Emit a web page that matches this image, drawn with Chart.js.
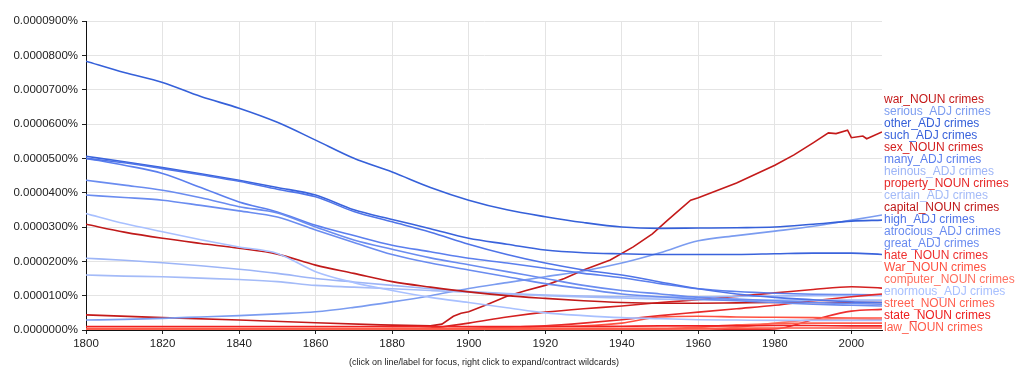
<!DOCTYPE html>
<html>
<head>
<meta charset="utf-8">
<script src="https://cdn.jsdelivr.net/npm/chart.js@4.4.1/dist/chart.umd.min.js"></script>
<style>
html,body{margin:0;padding:0;background:#fff;}
#wrap{width:1024px;height:382px;position:relative;}
</style>
</head>
<body>
<div id="wrap"><canvas id="c" width="1024" height="382"></canvas></div>
<script>
// values in units of 0.00001 %
const years = [1800,1810,1820,1830,1840,1850,1860,1870,1880,1890,1900,1910,1920,1930,1940,1950,1960,1970,1980,1990,2000,2008];
const xTickYears = [1800,1820,1840,1860,1880,1900,1920,1940,1960,1980,2000];
const yTickValues = [0,1,2,3,4,5,6,7,8,9];

const warYears  = [1800,1820,1840,1860,1877,1890,1893,1896,1898,1900,1905,1910,1915,1920,1925,1930,1937,1943,1948,1952,1958,1960,1970,1980,1985,1990,1994,1996,1999,2000,2003,2004,2008];
const warNoun   = [0.44,0.36,0.29,0.21,0.15,0.12,0.17,0.40,0.49,0.53,0.75,0.98,1.15,1.30,1.50,1.75,2.04,2.42,2.80,3.20,3.78,3.85,4.28,4.80,5.10,5.45,5.74,5.72,5.82,5.60,5.65,5.57,5.77];

const seriousAdj  = [0.29,0.31,0.34,0.38,0.42,0.47,0.53,0.66,0.82,1.00,1.21,1.38,1.55,1.72,1.95,2.25,2.60,2.75,2.88,3.02,3.20,3.35];
const otherAdj    = [7.83,7.50,7.21,6.80,6.46,6.05,5.53,5.00,4.60,4.15,3.78,3.50,3.30,3.13,3.00,2.96,2.97,2.98,3.00,3.08,3.17,3.20];
const suchAdj     = [5.06,4.90,4.73,4.55,4.36,4.15,3.93,3.50,3.22,2.95,2.67,2.50,2.33,2.25,2.22,2.20,2.20,2.20,2.22,2.24,2.24,2.20];
const sexNoun     = [0.02,0.02,0.02,0.02,0.02,0.02,0.03,0.03,0.04,0.06,0.20,0.38,0.52,0.62,0.70,0.80,0.88,0.98,1.08,1.18,1.26,1.22];
const manyAdj     = [5.00,4.80,4.56,4.15,3.73,3.44,3.05,2.75,2.47,2.28,2.09,1.95,1.80,1.65,1.52,1.35,1.20,1.12,1.07,1.04,1.03,1.02];
const heinousAdj  = [2.09,2.03,1.96,1.87,1.77,1.65,1.50,1.40,1.30,1.20,1.12,1.06,1.02,0.99,0.97,0.96,0.97,0.98,0.99,1.00,1.00,1.00];
const propertyNoun= [0.01,0.01,0.01,0.01,0.01,0.01,0.01,0.02,0.02,0.03,0.05,0.08,0.12,0.20,0.30,0.42,0.52,0.62,0.72,0.85,0.97,1.05];
const certainAdj  = [1.60,1.57,1.55,1.51,1.47,1.41,1.30,1.25,1.20,1.15,1.10,1.05,1.00,0.96,0.93,0.90,0.88,0.87,0.87,0.87,0.87,0.87];
const capitalNoun = [3.08,2.85,2.67,2.52,2.38,2.21,1.89,1.65,1.41,1.25,1.11,1.00,0.92,0.85,0.80,0.78,0.78,0.79,0.80,0.80,0.80,0.80];
const highAdj     = [5.00,4.87,4.70,4.52,4.33,4.10,3.88,3.45,3.15,2.85,2.50,2.20,1.95,1.75,1.60,1.40,1.20,1.05,0.95,0.88,0.82,0.80];
const atrociousAdj= [4.36,4.22,4.07,3.85,3.59,3.41,3.00,2.62,2.35,2.10,1.90,1.70,1.50,1.30,1.15,1.05,0.95,0.90,0.85,0.80,0.77,0.75];
const greatAdj    = [3.93,3.86,3.78,3.63,3.47,3.29,2.91,2.55,2.20,1.95,1.75,1.55,1.35,1.20,1.05,0.97,0.90,0.85,0.80,0.75,0.72,0.70];
const hateNoun    = [0,0,0,0,0,0,0,0,0,0,0,0,0,0,0,0,0.01,0.01,0.03,0.30,0.55,0.60];
const WarNoun     = [0.01,0.01,0.01,0.01,0.01,0.01,0.02,0.02,0.02,0.02,0.03,0.05,0.10,0.12,0.20,0.38,0.40,0.38,0.37,0.36,0.35,0.35];
const computerNoun= [0,0,0,0,0,0,0,0,0,0,0,0,0,0,0,0,0.01,0.08,0.20,0.30,0.33,0.30];
const enormousAdj = [3.39,3.10,2.86,2.63,2.42,2.23,1.70,1.38,1.15,0.95,0.80,0.65,0.50,0.42,0.36,0.33,0.30,0.29,0.28,0.28,0.28,0.28];
const streetNoun  = [0.01,0.01,0.01,0.01,0.01,0.01,0.01,0.01,0.01,0.01,0.01,0.01,0.02,0.02,0.02,0.03,0.08,0.15,0.18,0.20,0.20,0.20];
const stateNoun   = [0.10,0.10,0.10,0.10,0.10,0.10,0.10,0.10,0.10,0.10,0.10,0.10,0.10,0.10,0.11,0.12,0.12,0.12,0.13,0.13,0.12,0.12];
const lawNoun     = [0.05,0.05,0.05,0.05,0.05,0.05,0.05,0.05,0.05,0.05,0.05,0.05,0.05,0.05,0.05,0.05,0.05,0.05,0.06,0.06,0.06,0.06];

const labels = ["war_NOUN crimes","serious_ADJ crimes","other_ADJ crimes","such_ADJ crimes","sex_NOUN crimes","many_ADJ crimes","heinous_ADJ crimes","property_NOUN crimes","certain_ADJ crimes","capital_NOUN crimes","high_ADJ crimes","atrocious_ADJ crimes","great_ADJ crimes","hate_NOUN crimes","War_NOUN crimes","computer_NOUN crimes","enormous_ADJ crimes","street_NOUN crimes","state_NOUN crimes","law_NOUN crimes"];
const seriesValues = [warNoun,seriousAdj,otherAdj,suchAdj,sexNoun,manyAdj,heinousAdj,propertyNoun,certainAdj,capitalNoun,highAdj,atrociousAdj,greatAdj,hateNoun,WarNoun,computerNoun,enormousAdj,streetNoun,stateNoun,lawNoun];
const colors = ["#c41a1a","#7b9cf0","#3560d9","#3a63dc","#d42020","#5b7fee","#9db5f7","#e62a2a","#a4bbf8","#c01a1a","#4f74e8","#6a8cf0","#6a8cf0","#ee3030","#ff5040","#ff7060","#a8c0ff","#ff6050","#ee2020","#ff5a48"];
const footer = "(click on line/label for focus, right click to expand/contract wildcards)";

const datasets = labels.map((lab,i)=>{
  const xs = i===0 ? warYears : years;
  return {
    label: lab,
    data: seriesValues[i].map((v,k)=>({x:xs[k], y:v})),
    borderColor: colors[i],
    backgroundColor: colors[i],
    borderWidth: 1.6,
    pointRadius: 0,
    tension: i===0 ? 0 : 0.35,
    cubicInterpolationMode: i===0 ? 'default' : 'monotone',
    fill: false
  };
}).reverse();

const FONT = "'Liberation Sans', Arial, Helvetica, sans-serif";

const labelPlugin = {
  id: 'endLabels',
  afterDraw(chart){
    const ctx = chart.ctx;
    const ys = chart.scales.y;
    const area = chart.chartArea;
    const pos = new Array(labels.length);
    let next = Infinity;
    for (let i = labels.length-1; i >= 0; i--){
      const vals = seriesValues[i];
      const desired = ys.getPixelForValue(vals[vals.length-1]);
      const p = Math.min(desired, next - 12);
      pos[i] = p; next = p;
    }
    ctx.save();
    ctx.font = "12px " + FONT;
    ctx.textBaseline = 'middle';
    ctx.textAlign = 'left';
    for (let i = 0; i < labels.length; i++){
      ctx.fillStyle = colors[i];
      ctx.fillText(labels[i], area.right + 2, pos[i]);
    }
    ctx.font = "9px " + FONT;
    ctx.fillStyle = '#222';
    ctx.textAlign = 'center';
    ctx.fillText(footer, (area.left+area.right)/2, 363);
    ctx.restore();
  }
};

new Chart(document.getElementById('c'), {
  type: 'line',
  data: { datasets },
  plugins: [labelPlugin],
  options: {
    responsive: false,
    animation: false,
    events: [],
    layout: { padding: { left: 0, right: 142, top: 21, bottom: 0 } },
    plugins: { legend: {display:false}, tooltip:{enabled:false}, title:{display:false} },
    scales: {
      x: {
        type: 'linear', min: 1800, max: 2008,
        afterFit(s){ s.height = 52; },
        afterBuildTicks(s){ s.ticks = xTickYears.map(v=>({value:v})); },
        ticks: { stepSize: 20, includeBounds: false, color: '#222', font: { size: 11.5, family: FONT }, padding: 3, maxRotation: 0, callback: v => String(v) },
        grid: { color: '#e4e4e4', tickColor: '#222', tickLength: 4, drawOnChartArea: true },
        border: { color: '#111', width: 1 }
      },
      y: {
        min: 0, max: 9,
        afterFit(s){ s.width = 86; },
        afterBuildTicks(s){ s.ticks = yTickValues.map(v=>({value:v})); },
        ticks: { color: '#222', font: { size: 11.5, family: FONT }, padding: 4, callback: v => (v/100000).toFixed(7) + '%' },
        grid: { color: '#e4e4e4', tickColor: '#222', tickLength: 4 },
        border: { color: '#111', width: 1 }
      }
    }
  }
});
</script>
</body>
</html>
